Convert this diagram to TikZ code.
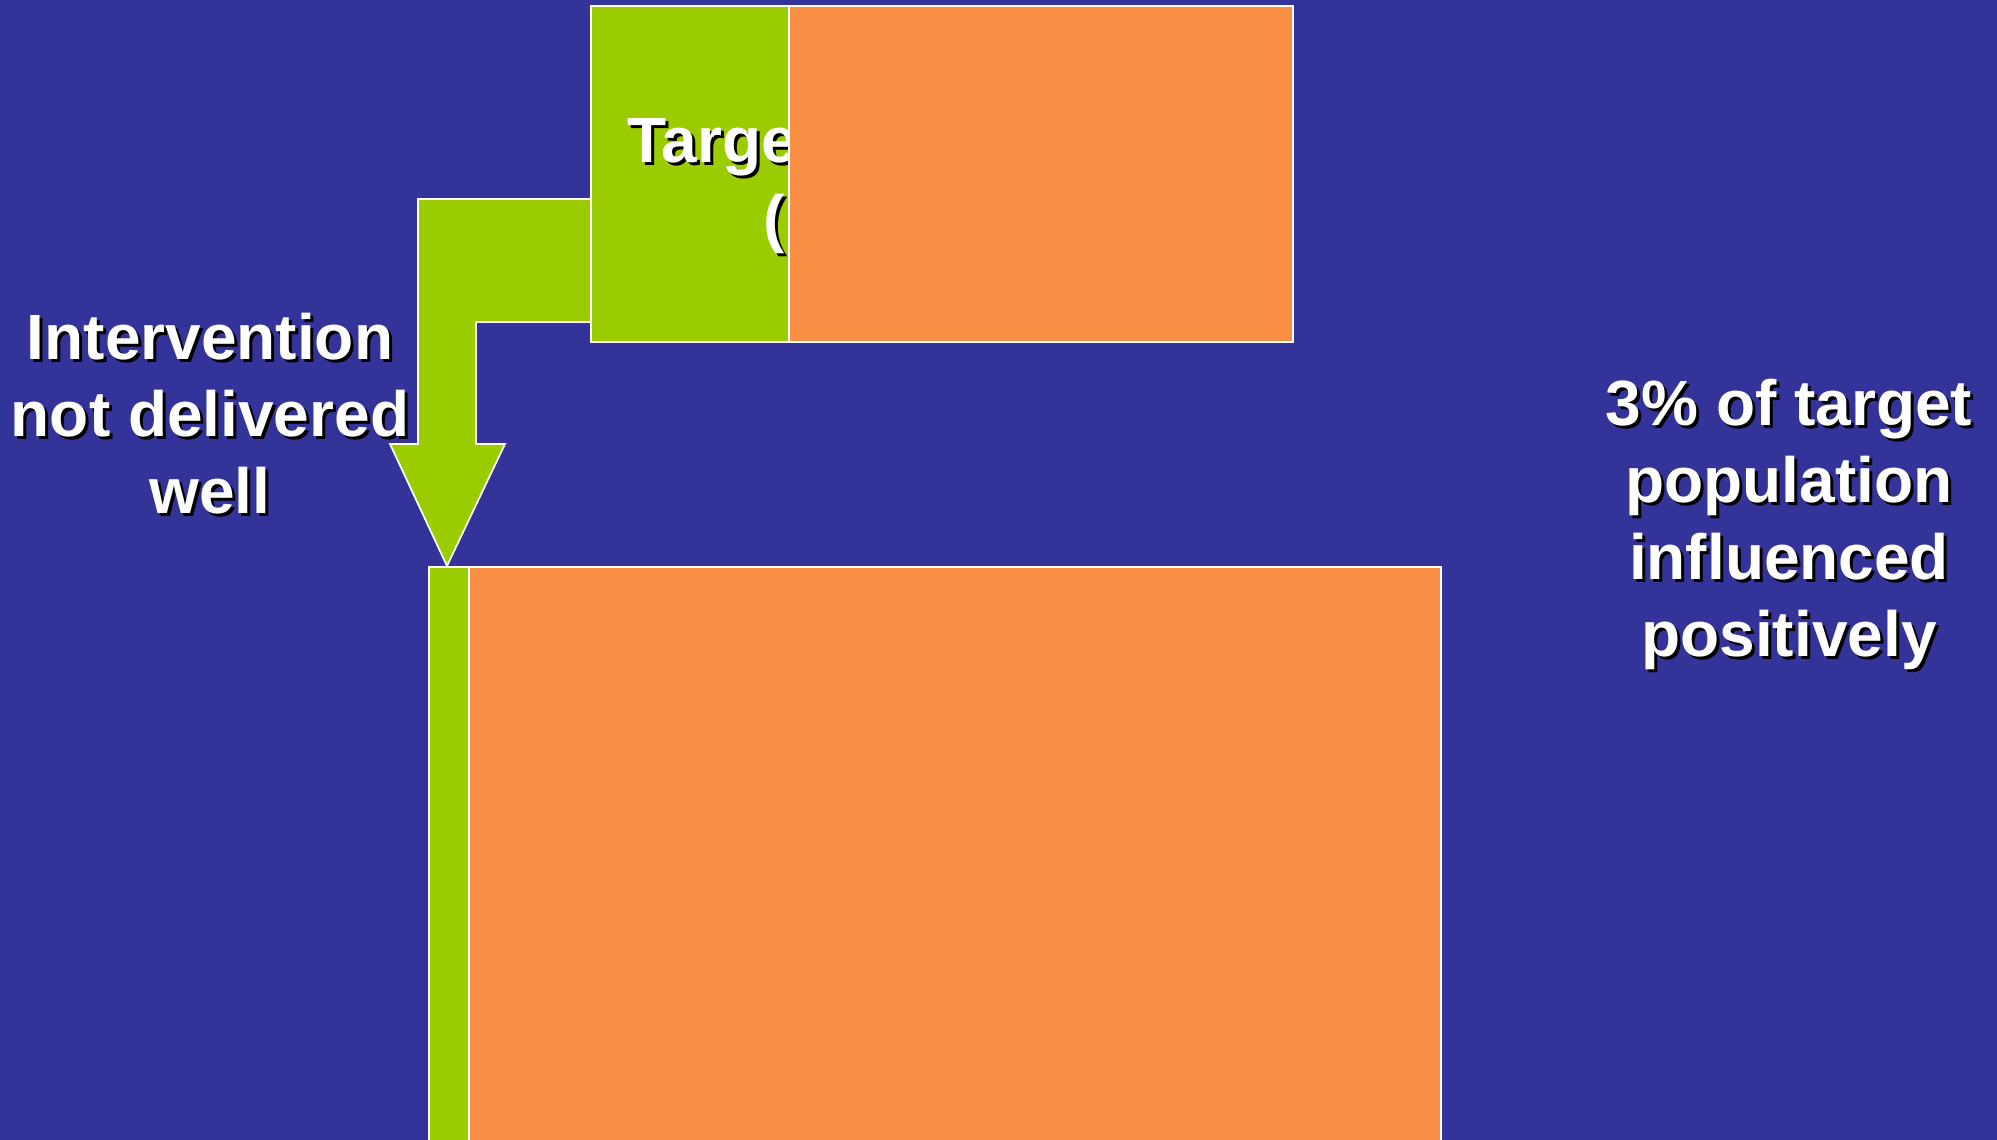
\documentclass[tikz,border=0pt]{standalone}
\usepackage{fontspec}
\setmainfont{Liberation Sans}
\usepackage{xcolor}
\usepackage{tikz}
\usetikzlibrary{positioning}

\definecolor{slideBlue}{RGB}{51,51,153}
\definecolor{barGreen}{RGB}{155,204,0}
\definecolor{barOrange}{RGB}{249,143,69}
% white text with a small black drop shadow
\newcommand{\shd}[1]{\leavevmode\rlap{\kern1.5pt\raisebox{-1.5pt}{\color{black}#1}}#1}

\begin{document}
\begin{tikzpicture}[x=0.5pt, y=-0.5pt,
    bar/.style={rectangle, draw=white, line width=0.85pt, anchor=north west, inner sep=0pt, outer sep=0pt},
    caption/.style={text=white, font=\bfseries\fontsize{32}{38.5}\selectfont, align=center, inner sep=0pt}
]

\fill[slideBlue] (0,0) rectangle (1997,1140);
\useasboundingbox (0,0) rectangle (1997,1140);

% bent arrow from the top bar down to the bottom bar
\draw[fill=barGreen, draw=white, line width=0.85pt, line join=miter]
    (591,199) -- (418,199) -- (418,444) -- (390,444) -- (447,566)
    -- (505,444) -- (476,444) -- (476,322) -- (591,322);

% top bar
\node[bar, fill=barGreen, minimum width=99pt, minimum height=168pt] (topGreen) at (591,6) {};
\node[caption, anchor=base west] (topLine1) at (627,162) {\shd{Target}};
\node[caption, anchor=base west] (topLine2) at (763,240) {\shd{(}};
\node[bar, fill=barOrange, minimum width=252pt, minimum height=168pt] (topOrange) at (topGreen.north east) {};

% bottom bar
\node[bar, fill=barGreen, minimum width=20pt, minimum height=291.5pt] (botGreen) at (429,567) {};
\node[bar, fill=barOrange, minimum width=486pt, minimum height=291.5pt] (botOrange) at (botGreen.north east) {};

\node[caption] (notDelivered) at (210,415) {\shd{Intervention}\\\shd{not delivered}\\\shd{well}};
\node[caption] (influenced) at (1789,526) {\shd{3\% of target}\\\shd{population}\\\shd{influenced}\\\shd{positively}};

\end{tikzpicture}
\end{document}
